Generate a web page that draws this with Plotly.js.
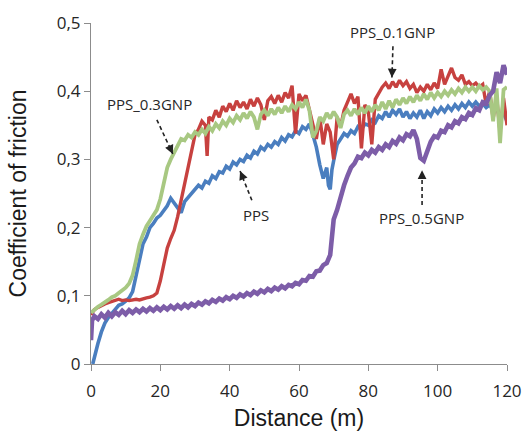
<!DOCTYPE html>
<html>
<head>
<meta charset="utf-8">
<script src="https://cdn.plot.ly/plotly-3.0.1.min.js"></script>
<style>
html,body{margin:0;padding:0;background:#fff;}
#chart{width:523px;height:431px;}
</style>
</head>
<body>
<div id="chart"></div>
<script>
// ---- Data ----
const seriesNames = ["PPS", "PPS_0.1GNP", "PPS_0.3GNP", "PPS_0.5GNP"];

const ppsX = [0.5,1,2,3,4,5,6,7,8,9,10,11,12,13,14,15,16,17,18,19,20,21,22,23,24,25,26,27,28,29,30,31,32,33,34,35,36,37,38,39,40,41,42,43,44,45,46,47,48,49,50,51,52,53,54,55,56,57,58,59,60,61,62,63,64,65,66,67,68,68.5,69,69.5,70,71,72,73,74,75,76,77,78,79,80,81,82,83,84,85,86,87,88,89,90,91,92,93,94,95,96,97,98,99,100,101,102,103,104,105,106,107,108,109,110,111,112,113,114,115,116,117,118,119,120];
const ppsY = [0.000,0.012,0.030,0.047,0.060,0.068,0.075,0.080,0.086,0.088,0.092,0.097,0.106,0.128,0.152,0.176,0.186,0.200,0.206,0.214,0.218,0.226,0.232,0.243,0.236,0.227,0.222,0.238,0.244,0.252,0.256,0.262,0.258,0.268,0.265,0.276,0.272,0.282,0.280,0.290,0.286,0.296,0.292,0.300,0.297,0.306,0.302,0.312,0.308,0.318,0.314,0.322,0.318,0.326,0.322,0.332,0.327,0.336,0.333,0.342,0.338,0.348,0.344,0.352,0.336,0.318,0.292,0.272,0.288,0.262,0.256,0.285,0.298,0.322,0.330,0.338,0.334,0.342,0.338,0.348,0.344,0.352,0.350,0.358,0.354,0.364,0.360,0.370,0.362,0.372,0.366,0.374,0.362,0.370,0.360,0.368,0.362,0.372,0.360,0.370,0.364,0.374,0.368,0.376,0.370,0.378,0.372,0.380,0.374,0.382,0.376,0.384,0.378,0.384,0.378,0.382,0.376,0.380,0.372,0.376,0.362,0.368,0.356];

const gnp01X = [0,1,2,3,4,5,6,7,8,9,10,11,12,13,14,15,16,17,18,19,20,21,22,23,24,25,26,27,28,29,30,31,32,33,33.5,34,35,36,37,38,39,40,41,42,43,44,45,46,47,48,49,50,51,52,53,54,55,56,57,58,59,60,61,62,63,64,65,66,67,68,69,70,71,72,73,74,75,76,77,78,79,80,81,82,83,84,85,86,87,88,89,90,91,92,93,94,95,96,97,98,99,100,101,102,103,104,105,106,107,108,109,110,111,112,113,114,115,116,117,118,119,120];
const gnp01Y = [0.072,0.080,0.083,0.086,0.088,0.090,0.092,0.094,0.095,0.093,0.094,0.093,0.094,0.095,0.094,0.096,0.097,0.098,0.100,0.104,0.122,0.146,0.170,0.184,0.196,0.216,0.240,0.268,0.292,0.316,0.336,0.344,0.356,0.350,0.305,0.362,0.358,0.372,0.362,0.378,0.370,0.382,0.372,0.386,0.376,0.384,0.374,0.388,0.378,0.390,0.380,0.358,0.386,0.392,0.382,0.394,0.384,0.398,0.390,0.408,0.338,0.396,0.386,0.394,0.372,0.350,0.330,0.362,0.322,0.352,0.340,0.300,0.362,0.348,0.372,0.384,0.396,0.382,0.392,0.316,0.380,0.370,0.322,0.388,0.398,0.406,0.412,0.404,0.414,0.406,0.416,0.408,0.414,0.404,0.410,0.398,0.406,0.400,0.410,0.402,0.412,0.404,0.432,0.410,0.422,0.434,0.420,0.416,0.424,0.410,0.414,0.408,0.412,0.406,0.410,0.380,0.400,0.360,0.392,0.340,0.390,0.350];

const gnp03X = [0,1,2,3,4,5,6,7,8,9,10,11,12,13,14,15,16,17,18,19,20,21,22,23,24,25,26,27,28,29,30,31,32,33,34,35,36,37,38,39,40,41,42,43,44,45,46,47,48,49,50,51,52,53,54,55,56,57,58,59,60,61,62,63,64,65,66,67,68,69,70,71,72,73,74,75,76,77,78,79,80,81,82,83,84,85,86,87,88,89,90,91,92,93,94,95,96,97,98,99,100,101,102,103,104,105,106,107,108,109,110,111,112,113,114,115,116,117,118,119,120];
const gnp03Y = [0.075,0.080,0.084,0.087,0.090,0.094,0.098,0.100,0.104,0.108,0.112,0.118,0.130,0.152,0.176,0.190,0.202,0.210,0.218,0.226,0.242,0.266,0.288,0.300,0.310,0.322,0.330,0.328,0.336,0.332,0.340,0.336,0.344,0.338,0.348,0.342,0.352,0.346,0.356,0.350,0.360,0.354,0.364,0.358,0.368,0.360,0.370,0.362,0.344,0.366,0.372,0.364,0.374,0.366,0.376,0.368,0.378,0.370,0.380,0.374,0.384,0.376,0.388,0.372,0.332,0.342,0.362,0.356,0.368,0.360,0.370,0.362,0.346,0.366,0.372,0.364,0.374,0.366,0.376,0.368,0.378,0.370,0.380,0.372,0.384,0.374,0.386,0.376,0.388,0.380,0.390,0.382,0.392,0.384,0.394,0.386,0.396,0.388,0.398,0.390,0.398,0.392,0.400,0.394,0.402,0.396,0.404,0.398,0.406,0.400,0.406,0.400,0.408,0.402,0.406,0.400,0.356,0.404,0.324,0.402,0.406];

const gnp05X = [0,0.3,1,2,3,4,5,6,7,8,9,10,11,12,13,14,15,16,17,18,19,20,21,22,23,24,25,26,27,28,29,30,31,32,33,34,35,36,37,38,39,40,41,42,43,44,45,46,47,48,49,50,51,52,53,54,55,56,57,58,59,60,61,62,63,64,65,66,67,68,69,69.5,70,71,72,73,74,75,76,77,78,79,80,81,82,83,84,85,86,87,88,89,90,91,92,93,94,95,96,97,98,99,100,101,102,103,104,105,106,107,108,109,110,111,112,113,114,115,116,117,118,119,120];
const gnp05Y = [0.035,0.064,0.070,0.066,0.073,0.068,0.075,0.070,0.076,0.072,0.078,0.073,0.079,0.075,0.080,0.076,0.081,0.077,0.082,0.078,0.083,0.079,0.084,0.080,0.085,0.081,0.086,0.082,0.087,0.083,0.088,0.085,0.090,0.087,0.092,0.089,0.094,0.091,0.096,0.093,0.098,0.095,0.100,0.097,0.102,0.099,0.104,0.101,0.106,0.103,0.108,0.105,0.110,0.107,0.112,0.109,0.114,0.111,0.116,0.114,0.119,0.117,0.123,0.122,0.129,0.128,0.136,0.137,0.145,0.148,0.160,0.190,0.212,0.226,0.246,0.262,0.276,0.288,0.294,0.304,0.302,0.310,0.306,0.314,0.310,0.318,0.314,0.322,0.318,0.327,0.323,0.332,0.328,0.337,0.334,0.343,0.330,0.302,0.298,0.312,0.326,0.334,0.332,0.342,0.340,0.350,0.347,0.356,0.353,0.362,0.359,0.368,0.365,0.375,0.372,0.384,0.382,0.394,0.400,0.428,0.412,0.438,0.424];

const yTickVals = [0, 0.1, 0.2, 0.3, 0.4, 0.5];
const xTickVals = [0, 20, 40, 60, 80, 100, 120];

// label placement: [text, textX, textY, tailX, tailY, tipX, tipY, headAx, headAy]
const labels = [
  ["PPS_0.3GNP", 17.0, 0.381, 19.0, 0.358, 23.6, 0.308, -3.3, -7.3],
  ["PPS",        47.6, 0.218, 46.4, 0.240, 43.0, 0.283,  3.1,  7.4],
  ["PPS_0.1GNP", 87.1, 0.487, 87.1, 0.466, 86.8, 0.420,  0.3, -8.0],
  ["PPS_0.5GNP", 95.2, 0.214, 95.5, 0.233, 95.5, 0.284,  0.0,  8.0]
];

// ---- Plot ----
const colors = ["#4A7EBF", "#C7413F", "#A8C882", "#7D5DA8"];
const xs = [ppsX, gnp01X, gnp03X, gnp05X];
const ys = [ppsY, gnp01Y, gnp03Y, gnp05Y];
const widths = [3.6, 3.4, 3.8, 4.6];

const traces = seriesNames.map((n, i) => ({
  type: "scatter", mode: "lines", name: n,
  x: xs[i], y: ys[i],
  line: {color: colors[i], width: widths[i]},
  hoverinfo: "skip"
}));

const shapes = labels.map(l => ({
  type: "line", xref: "x", yref: "y",
  x0: l[3], y0: l[4], x1: l[5], y1: l[6],
  line: {color: "#222", width: 1.6, dash: "4px,3px"}
}));

const annotations = [];
labels.forEach(l => {
  annotations.push({
    x: l[1], y: l[2], xref: "x", yref: "y", text: l[0], showarrow: false,
    font: {family: "Open Sans, sans-serif", size: 15, color: "#262626"}
  });
  annotations.push({
    x: l[5], y: l[6], xref: "x", yref: "y", text: "", showarrow: true,
    axref: "pixel", ayref: "pixel", ax: l[7], ay: l[8],
    arrowhead: 2, arrowsize: 1.1, arrowwidth: 1.6, arrowcolor: "#222", standoff: 0
  });
});

const axisCommon = {
  showgrid: false, zeroline: false, showline: true,
  linecolor: "#8c8c8c", linewidth: 1,
  ticks: "outside", ticklen: 6, tickcolor: "#8c8c8c", tickwidth: 1,
  tickfont: {family: "Open Sans, sans-serif", size: 17, color: "#262626"}
};

const layout = {
  width: 523, height: 431,
  margin: {l: 91, r: 16, t: 23, b: 67},
  paper_bgcolor: "#fff", plot_bgcolor: "#fff",
  showlegend: false,
  separators: ", ",
  xaxis: Object.assign({}, axisCommon, {
    range: [0, 120], tickvals: xTickVals, autorange: false,
    ticklabelstandoff: 6,
    title: {text: "Distance (m)", standoff: 18,
            font: {family: "Liberation Sans, Arial, sans-serif", size: 23, color: "#1a1a1a"}}
  }),
  yaxis: Object.assign({}, axisCommon, {
    range: [0, 0.5], tickvals: yTickVals, autorange: false,
    tickformat: ".1~f",
    title: {text: "Coefficient of friction", standoff: 23,
            font: {family: "Liberation Sans, Arial, sans-serif", size: 23, color: "#1a1a1a"}}
  }),
  shapes: shapes,
  annotations: annotations
};

Plotly.newPlot("chart", traces, layout, {displayModeBar: false, staticPlot: true});
</script>
</body>
</html>
